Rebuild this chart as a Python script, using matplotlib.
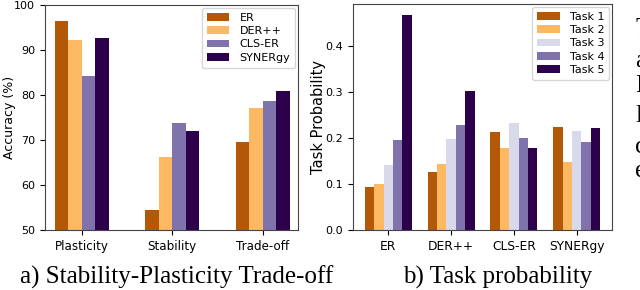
import matplotlib
matplotlib.use("Agg")
import matplotlib.pyplot as plt
import numpy as np

# Left panel data
metrics = ["Plasticity", "Stability", "Trade-off"]
methods = ["ER", "DER++", "CLS-ER", "SYNERgy"]
er_acc = [96.5, 54.4, 69.6]
derpp_acc = [92.2, 66.3, 77.2]
clser_acc = [84.2, 73.7, 78.7]
synergy_acc = [92.7, 71.9, 81.0]

# Right panel data
tasks = ["Task 1", "Task 2", "Task 3", "Task 4", "Task 5"]
task1 = [0.094, 0.127, 0.212, 0.225]
task2 = [0.100, 0.143, 0.178, 0.147]
task3 = [0.141, 0.198, 0.232, 0.215]
task4 = [0.195, 0.228, 0.199, 0.191]
task5 = [0.468, 0.302, 0.178, 0.222]

c_er = "#b35806"
c_der = "#fdb863"
c_t3 = "#d8daeb"
c_cls = "#8073ac"
c_syn = "#2d004b"

W, H = 640, 290
fig = plt.figure(figsize=(6.4, 2.9), dpi=100)
plt.rcParams['font.family'] = 'DejaVu Sans'

ax1 = fig.add_axes([45 / W, 1 - 230 / H, (298 - 45) / W, (230 - 5) / H])
ax2 = fig.add_axes([353 / W, 1 - 230 / H, (612 - 353) / W, (230 - 4) / H])

bw = 0.15
x = np.arange(len(metrics))
series1 = [er_acc, derpp_acc, clser_acc, synergy_acc]
cols1 = [c_er, c_der, c_cls, c_syn]
for i, (vals, col, lab) in enumerate(zip(series1, cols1, methods)):
    ax1.bar(x + (i - 1.5) * bw, vals, bw, color=col, label=lab)
ax1.set_ylim(50, 100)
ax1.set_xlim(-0.405, 2.39)
ax1.set_xticks(x)
ax1.set_xticklabels(metrics, fontsize=8.6)
ax1.set_yticks([50, 60, 70, 80, 90, 100])
ax1.tick_params(axis='y', labelsize=8)
ax1.set_ylabel("Accuracy (%)", fontsize=9)
ax1.yaxis.set_label_coords((16 - 45) / 253, 0.5)
ax1.legend(loc="upper right", fontsize=8, handlelength=2.0, borderpad=0.45,
           labelspacing=0.3, handletextpad=0.9, borderaxespad=0.25)

x2 = np.arange(len(methods))
series2 = [task1, task2, task3, task4, task5]
cols2 = [c_er, c_der, c_t3, c_cls, c_syn]
for i, (vals, col, lab) in enumerate(zip(series2, cols2, tasks)):
    ax2.bar(x2 + (i - 2) * bw, vals, bw, color=col, label=lab)
ax2.set_xticks(x2)
ax2.set_xticklabels(methods, fontsize=8.8)
ax2.set_yticks([0.0, 0.1, 0.2, 0.3, 0.4])
ax2.tick_params(axis='y', labelsize=8)
ax2.set_ylabel("Task Probability", fontsize=10.5)
ax2.yaxis.set_label_coords((326 - 353) / 259, 0.5)
ax2.legend(loc="upper right", fontsize=8, handlelength=2.0, borderpad=0.45,
           labelspacing=0.3, handletextpad=0.9, borderaxespad=0.25)

for ax in (ax1, ax2):
    for s in ax.spines.values():
        s.set_color("#444444")

serif = "Liberation Serif"
fig.text(176.5 / W, 1 - 284 / H, "a) Stability-Plasticity Trade-off", family=serif,
         fontsize=18.1, ha="center", va="baseline")
fig.text(497.5 / W, 1 - 284 / H, "b) Task probability", family=serif,
         fontsize=18, ha="center", va="baseline")

# Clipped body text visible at right edge of the original crop
edge_letters = ["T", "a", "I", "l", "c", "e"]
edge_baselines = [35, 67, 92, 122, 153, 177]
for ch, yb in zip(edge_letters, edge_baselines):
    fig.text(635 / W, 1 - yb / H, ch, family=serif, fontsize=18,
             ha="left", va="baseline")

fig.savefig("out.png", dpi=100)
